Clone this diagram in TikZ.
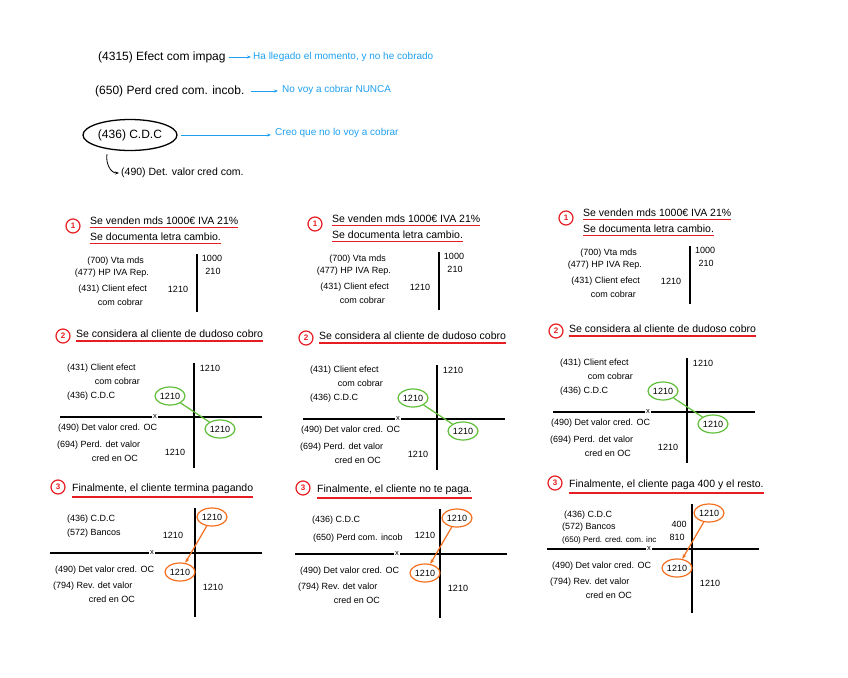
\documentclass[tikz,border=0pt]{standalone}
\usepackage{fontspec}
\setmainfont{Liberation Sans}
\usetikzlibrary{arrows.meta, positioning, shapes.geometric}
\definecolor{penblue}{RGB}{30,160,240}
\definecolor{penred}{RGB}{230,30,35}
\definecolor{pengreen}{RGB}{95,190,55}
\definecolor{penorange}{RGB}{245,110,30}

\begin{document}
\begin{tikzpicture}[
    x=1pt, y=-1pt,
    every node/.style={inner sep=0pt},
    acct/.style={
      font=\fontsize{12}{14}\selectfont,
      anchor=west
    },
    note/.style={
      font=\fontsize{10}{12}\selectfont,
      text=penblue,
      anchor=west
    },
    title/.style={
      font=\fontsize{10.5}{12}\selectfont,
      anchor=west
    },
    lbl/.style={
      font=\fontsize{9}{11}\selectfont,
      anchor=west
    },
    lblr/.style={
      lbl,
      anchor=east
    },
    amt/.style={
      font=\fontsize{9}{11}\selectfont
    },
    stepnum/.style={
      circle,
      draw=penred,
      line width=1.2pt,
      text=penred,
      minimum size=14pt,
      font=\fontsize{8}{8}\selectfont\bfseries
    },
    uline/.style={
      draw=penred,
      line width=1.3pt
    },
    tline/.style={
      draw=black,
      line width=1.1pt
    },
    xmark/.style={
      font=\fontsize{7.5}{7.5}\selectfont,
      inner sep=1.2pt
    },
    gmark/.style={
      ellipse,
      draw=pengreen,
      line width=1.2pt,
      minimum width=30pt,
      minimum height=18pt,
      font=\fontsize{9}{11}\selectfont
    },
    omark/.style={
      gmark,
      draw=penorange
    },
    gline/.style={
      draw=pengreen,
      line width=1.2pt
    },
    oarrow/.style={
      -{Stealth[length=5pt]},
      draw=penorange,
      line width=1.2pt
    },
    barrow/.style={
      -{Stealth[length=4pt]},
      draw=penblue,
      thick
    },
    hookarrow/.style={
      -{Stealth[length=4pt]},
      draw=black,
      thick
    }
  ]

    \useasboundingbox (0,0) rectangle (848,677);

    % Account types at the top
    \node[acct] (impag) at (98,57) {(4315) Efect com impag};
    \node[note] (impagnote) at (253,57) {Ha llegado el momento, y no he cobrado};
    \draw[barrow, shorten <=3pt, shorten >=2pt] (impag.east) -- (impag.east -| impagnote.west);

    \node[acct] (incob) at (95,91) {(650) Perd cred com. incob.};
    \node[note] (incobnote) at (282,90) {No voy a cobrar NUNCA};
    \draw[barrow, shorten <=6pt, shorten >=4pt] (incob.east) -- (incob.east -| incobnote.west);

    \node[acct, ellipse, draw, line width=1.3pt, minimum width=94pt,
      minimum height=31pt, anchor=center] (cdc) at (130,135) {(436) C.D.C};
    \node[note] (cdcnote) at (275,133) {Creo que no lo voy a cobrar};
    \draw[barrow, shorten <=3pt, shorten >=4pt] (cdc.east) -- (cdc.east -| cdcnote.west);

    \node[font=\fontsize{10.5}{12}\selectfont, anchor=west] (detval) at (121,173)
      {(490) Det. valor cred com.};
    \draw[hookarrow] ([xshift=-23pt, yshift=-3pt]cdc.south)
      to[out=-100, in=180] ([xshift=-2pt]detval.west);

    % Step 1: the sale, same in the three columns
    \foreach \c/\dx/\dy in {a/0/0, b/242/-2, c/493/-8} {
      \begin{scope}[shift={(\dx,\dy)}]
        \node[stepnum] (one\c) at (73,226) {1};
        \node[title] (sell\c) at (90,221) {Se venden mds 1000€ IVA 21\%};
        \node[title] (doc\c) at (90,237) {Se documenta letra cambio.};
        \draw[uline] ([yshift=-2.5pt]sell\c.south west) -- ([yshift=-2.5pt]sell\c.south east);
        \draw[uline] ([yshift=-2.5pt]doc\c.south west) -- ([yshift=-2.5pt]doc\c.south east);

        \node[lblr] (vta\c) at (144,261) {(700) Vta mds};
        \node[lblr] (iva\c) at (149,273) {(477) HP IVA Rep.};
        \node[lblr] (cli\c) at (147,289) {(431) Client efect};
        \node[lblr] (cob\c) at (143,302) {com cobrar};
        \node[amt] (dcli\c) at (178,289) {1210};
        \node[amt] (hvta\c) at (212,258) {1000};
        \node[amt] (hiva\c) at (213,271) {210};
        \coordinate (otop\c) at (197,254);
        \coordinate (obot\c) at (197,312);
        \draw[tline] (otop\c) -- (obot\c);
      \end{scope}
    }

    % Step 2: doubtful collection, same in the three columns
    \foreach \c/\dx/\dy in {a/0/0, b/243/2, c/493/-5} {
      \begin{scope}[shift={(\dx,\dy)}]
        \node[stepnum] (two\c) at (63,336) {2};
        \node[title] (dud\c) at (76,334) {Se considera al cliente de dudoso cobro};
        \draw[uline] ([yshift=-3pt]dud\c.south west) -- ([yshift=-3pt]dud\c.south east);

        \coordinate (vtop\c) at (194,363);
        \coordinate (vbot\c) at (194,468);
        \coordinate (hlft\c) at (60,417);
        \coordinate (hrgt\c) at (262,417);
        \node[xmark] (xtwo\c) at (155,417) {x};
        \draw[tline] (vtop\c) -- (vbot\c);
        \draw[tline] (hlft\c) -- (xtwo\c);
        \draw[tline] (xtwo\c) -- (hrgt\c);

        \node[lbl] (ccli\c) at (67,368) {(431) Client efect};
        \node[lblr] (ccob\c) at (140,381) {com cobrar};
        \node[lbl] (ccdc\c) at (67,396) {(436) C.D.C};
        \node[amt] (hcli\c) at (210,368) {1210};
        \node[gmark] (gl\c) at (170,396) {1210};

        \node[lbl] (cdet\c) at (58,428) {(490) Det valor cred. OC};
        \node[lbl] (cperd\c) at (57,445) {(694) Perd. det valor};
        \node[lblr] (cen\c) at (138,458) {cred en OC};
        \node[amt] (dperd\c) at (175,452) {1210};
        \node[gmark] (gr\c) at (220,429) {1210};

        \draw[gline] (gl\c) -- (gr\c);
      \end{scope}
    }

    % Step 3: the three endings
    \foreach \c/\dx/\dy/\ttl in {
        a/0/0/{Finalmente, el cliente termina pagando},
        b/245/1/{Finalmente, el cliente no te paga.},
        c/497/-4/{Finalmente, el cliente paga 400 y el resto.}} {
      \begin{scope}[shift={(\dx,\dy)}]
        \node[stepnum] (three\c) at (58,487) {3};
        \node[title] (fin\c) at (72,489) {\ttl};
        \draw[uline] ([yshift=-3pt]fin\c.south west) -- ([yshift=-3pt]fin\c.south east);

        \coordinate (wtop\c) at (195,508);
        \coordinate (wbot\c) at (195,617);
        \coordinate (wlft\c) at (50,553);
        \coordinate (wrgt\c) at (262,553);
        \node[xmark] (xthree\c) at (152,553) {x};
        \draw[tline] (wtop\c) -- (wbot\c);
        \draw[tline] (wlft\c) -- (xthree\c);
        \draw[tline] (xthree\c) -- (wrgt\c);

        \node[lbl] (fcdc\c) at (67,519) {(436) C.D.C};
        \node[omark] (ot\c) at (212,517) {1210};

        \node[lbl] (fdet\c) at (55,570) {(490) Det valor cred. OC};
        \node[lbl] (frev\c) at (53,586) {(794) Rev. det valor};
        \node[lblr] (fen\c) at (135,599) {cred en OC};
        \node[omark] (ob\c) at (180,572) {1210};
        \node[amt] (hrev\c) at (213,587) {1210};

        \draw[oarrow] (ot\c) -- (ob\c);
      \end{scope}
    }

    % what differs in the endings
    \node[lbl] (bancosa) at (67,533) {(572) Bancos};
    \node[amt] (dbancosa) at (173,535) {1210};

    \node[lbl] (perdb) at (313,538) {(650) Perd com. incob};
    \node[amt] (dperdb) at (425,535) {1210};

    \node[lbl] (bancosc) at (562,527) {(572) Bancos};
    \node[lbl, font=\fontsize{8}{10}\selectfont] (perdc) at (562,540) {(650) Perd. cred. com. inc};
    \node[amt] (dbancosc) at (679,524) {400};
    \node[amt] (dperdc) at (677,537) {810};

  \end{tikzpicture}
\end{document}
